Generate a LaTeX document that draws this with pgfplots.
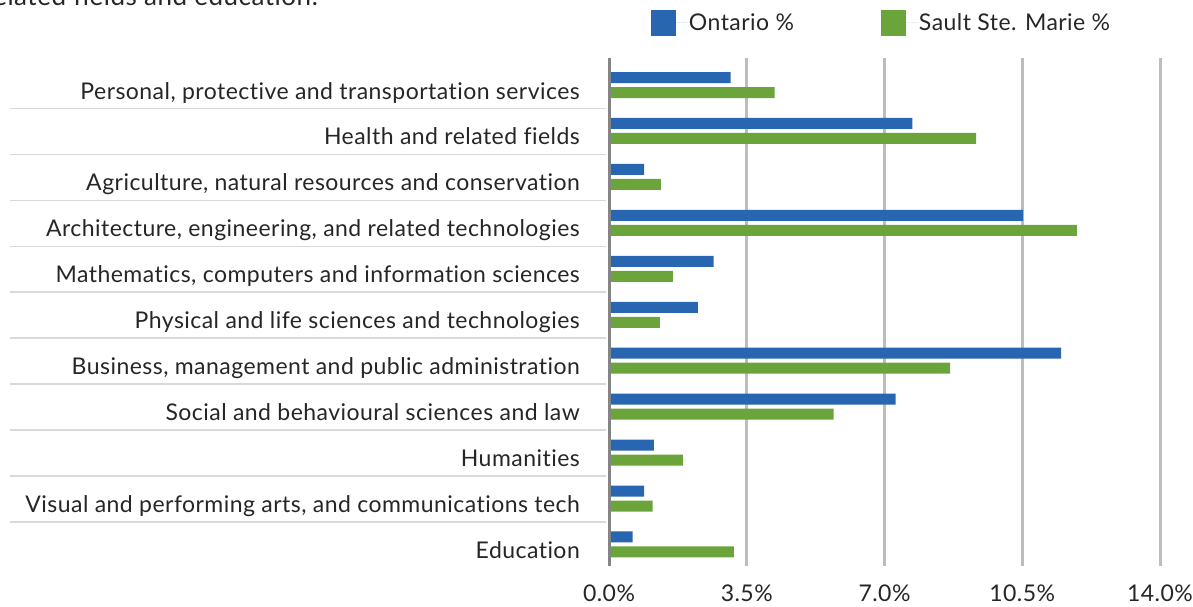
\documentclass[border=0pt]{standalone}
\usepackage{fontspec}
\setmainfont{Lato}[Ligatures=NoCommon, LetterSpace=2]
\usepackage{pgfplots}
\usepackage{pgfplotstable}
\pgfplotsset{compat=1.18}
\definecolor{ontblue}{HTML}{2966B1}
\definecolor{ssmgreen}{HTML}{6BA43A}
\definecolor{gridgray}{HTML}{BBBDBF}
\definecolor{axisgray}{HTML}{858585}
\definecolor{sepgray}{HTML}{D9D9D9}
\definecolor{txt}{HTML}{262626}

\pgfplotstableread{
y ont ssm
10 3.09 4.21
9 7.71 9.33
8 0.89 1.32
7 10.52 11.89
6 2.66 1.62
5 2.26 1.29
4 11.49 8.67
3 7.28 5.71
2 1.14 1.88
1 0.89 1.11
0 0.60 3.17
}\datatable

\begin{document}
\begin{tikzpicture}[x=1pt,y=1pt]
\useasboundingbox (0,0) rectangle (1193,607);
\node[anchor=base east, font=\fontsize{26}{30}\selectfont, text=txt, inner sep=0pt] at (318,601) {share of graduates in health and related fields and education.};
\begin{axis}[
  at={(609pt,41pt)}, anchor=south west, scale only axis,
  width=551pt, height=508pt,
  xmin=0, xmax=14, ymin=-0.468, ymax=10.588,
  xbar, bar width=11pt,
  axis line style={draw=none},
  tick style={draw=none},
  major tick length=0pt,
  xtick={0,3.5,7,10.5,14},
  xticklabels={0.0\%,3.5\%,7.0\%,10.5\%,14.0\%},
  ytick={0,1,2,3,4,5,6,7,8,9,10},
  yticklabels={Education,
    {Visual and performing arts, and communications tech},
    Humanities,
    Social and behavioural sciences and law,
    Business{,} management and public administration,
    Physical and life sciences and technologies,
    Mathematics{,} computers and information sciences,
    {Architecture, engineering, and related technologies},
    {Agriculture, natural resources and conservation},
    Health and related fields,
    {Personal, protective and transportation services}},
  xmajorgrids, major grid style={gridgray, line width=3pt},
  ticklabel style={font=\fontsize{23}{27}\selectfont, text=txt},
  yticklabel style={anchor=base east, inner sep=0pt, xshift=-29pt, yshift=-14pt},
  xticklabel style={anchor=base, inner sep=0pt, yshift=-36pt},
  clip=false,
  legend columns=2,
  legend image code/.code={\fill[#1, draw=none] (0pt,-13pt) rectangle (25pt,13pt); \path (0pt,0pt) -- (38pt,0pt);},
  legend style={at={(axis description cs:0.0762,1.0689)}, anchor=west, draw=none, fill=none,
    inner sep=0pt, outer sep=0pt, column sep=0pt, row sep=0pt,
    font=\fontsize{23}{27}\selectfont, text=txt, nodes={inner sep=0pt}},
]
\addplot[fill=ontblue, draw=none, bar shift=7.5pt] table[x=ont,y=y]{\datatable};
\addplot[fill=ssmgreen, draw=none, bar shift=-7.5pt] table[x=ssm,y=y]{\datatable};
\legend{\makebox[192pt][l]{Ontario \%}, Sault Ste. Marie \%}
\pgfplotsinvokeforeach{0,...,9}{
  \draw[sepgray, line width=1.5pt] ([xshift=-599pt]axis cs:0,#1+0.49) -- ([xshift=-3pt]axis cs:0,#1+0.49);
}
\draw[axisgray, line width=3pt] (rel axis cs:0,0) -- (rel axis cs:0,1);
\end{axis}
\end{tikzpicture}
\end{document}
